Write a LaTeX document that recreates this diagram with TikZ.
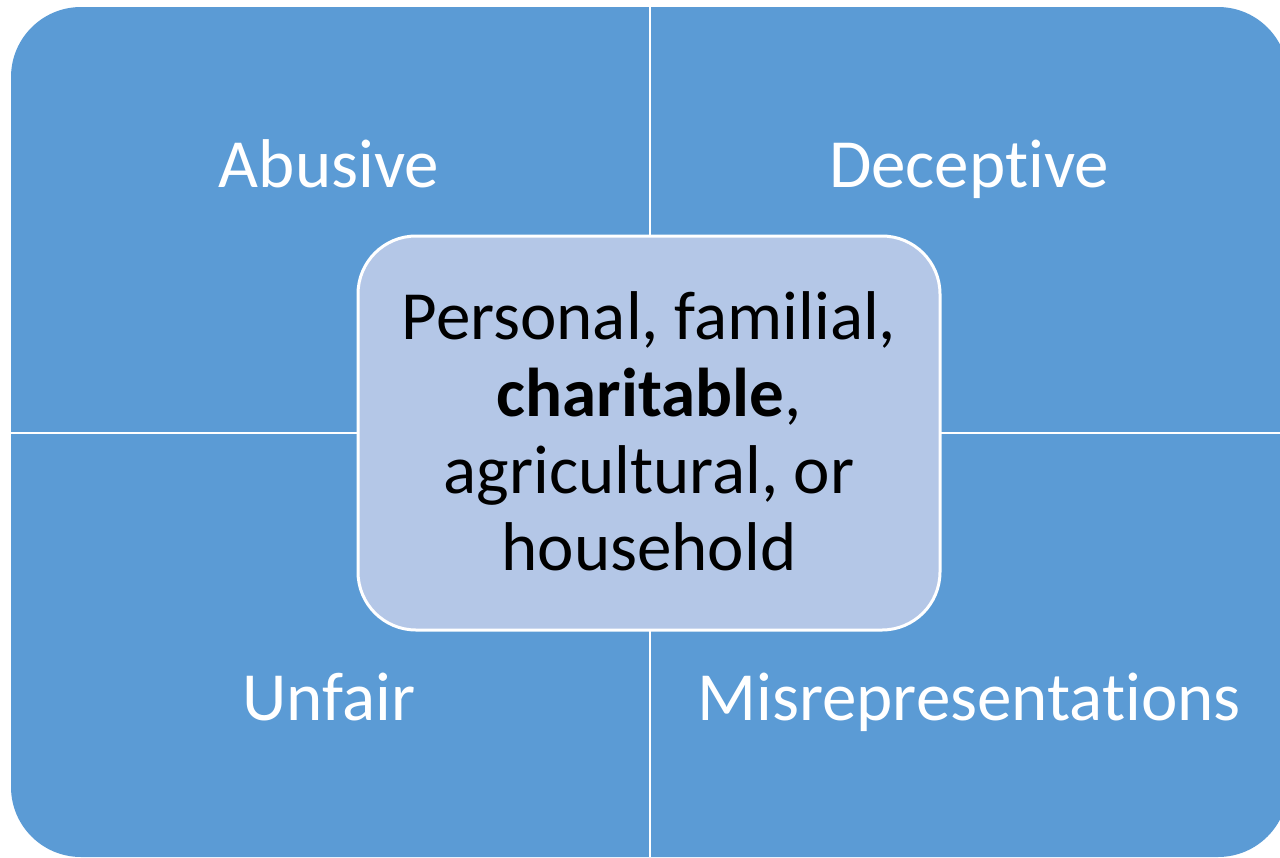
\documentclass[tikz,border=0pt]{standalone}
\usepackage{fontspec}
\setmainfont[RawFeature={-liga;-dlig}]{Carlito}
\definecolor{quadblue}{RGB}{91,155,213}
\definecolor{coreblue}{RGB}{180,199,231}
\begin{document}
\begin{tikzpicture}[x=1pt,y=-1pt,
  quadlabel/.style={text=white,font=\fontsize{69}{77}\selectfont,anchor=base},
  corebox/.style={fill=coreblue,draw=white,line width=3pt,rounded corners=58pt},
  coretext/.style={text=black,align=center,font=\fontsize{69}{77}\selectfont}]
\useasboundingbox (0,0) rectangle (1280,857);
\clip (0,0) rectangle (1280,857);
% outer matrix block
\fill[quadblue,rounded corners=70pt] (11,7) rectangle (1288,857);
% white gaps between the four quadrants
\coordinate (vtop) at (650,0);
\coordinate (vbot) at (650,857);
\coordinate (hl) at (0,433);
\coordinate (hr) at (1280,433);
\draw[white,line width=2pt] (vtop) -- (vbot);
\draw[white,line width=2pt] (hl) -- (hr);
% quadrant labels
\node[quadlabel] (abusive) at (329,187) {Abusive};
\node[quadlabel] (deceptive) at (969,187) {Deceptive};
\node[quadlabel] (unfair) at (329,720) {Unfair};
\node[quadlabel] (misrep) at (969,720) {Misrepresentations};
% central box
\path[corebox] (358,236) rectangle (940,630);
\node[coretext] (core) at (649,431) {Personal, familial,\\\textbf{charitable},\\agricultural, or\\household};
\end{tikzpicture}
\end{document}
